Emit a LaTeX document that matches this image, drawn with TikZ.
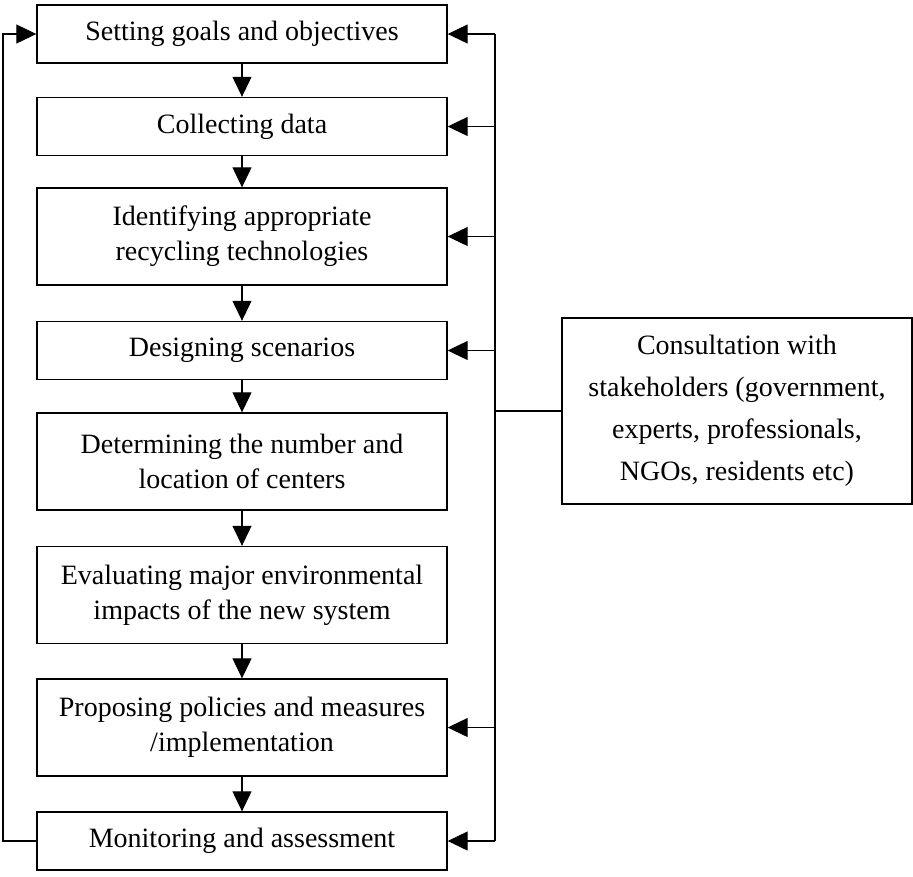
\documentclass[tikz,border=0pt]{standalone}
\usepackage{fontspec}
\setmainfont{Liberation Serif}
\usetikzlibrary{arrows.meta}
\tikzset{>={Triangle[length=8pt,width=7.6pt]}}
\tikzset{stage/.style={draw,line width=0.55pt,inner sep=0pt,minimum width=164pt,
    minimum height=23.2pt,align=center,font=\fontsize{11.2}{14}\selectfont}}
\tikzset{tall/.style={stage,minimum height=38.8pt}}
\tikzset{link/.style={line width=0.45pt}}

\begin{document}
\begin{tikzpicture}[x=0.4pt,y=-0.4pt]
  \useasboundingbox (0,0) rectangle (913,876);
  \node[stage] (goals) at (242,34) {Setting goals and objectives};
  \node[stage] (data) at (242,126.5) {Collecting data};
  \node[tall] (tech) at (242,236.5) {Identifying appropriate\\recycling technologies};
  \node[stage] (scen) at (242,350.5) {Designing scenarios};
  \node[tall] (centers) at (242,461.5) {Determining the number and\\location of centers};
  \node[tall] (impacts) at (242,595) {Evaluating major environmental\\impacts of the new system};
  \node[tall] (policy) at (242,727.5) {Proposing policies and measures\\/implementation};
  \node[stage] (monitor) at (242,841) {Monitoring and assessment};
  \node[draw,line width=0.55pt,inner sep=0pt,minimum width=140pt,minimum height=74.4pt,
    align=center,font=\fontsize{11.2}{16.8}\selectfont] (stake) at (737,411)
    {Consultation with\\stakeholders (government,\\experts, professionals,\\NGOs, residents etc)};
  \coordinate (bus) at (495,0);
  \coordinate (loop) at (3,0);
  % main sequence
  \draw[link,->] (goals) -- (data);
  \draw[link,->] (data) -- (tech);
  \draw[link,->] (tech) -- (scen);
  \draw[link,->] (scen) -- (centers);
  \draw[link,->] (centers) -- (impacts);
  \draw[link,->] (impacts) -- (policy);
  \draw[link,->] (policy) -- (monitor);
  % feedback loop
  \draw[link,->] (monitor.west) -- (loop |- monitor.west) -- (loop |- goals.west) -- (goals.west);
  % stakeholders
  \draw[link] (bus |- goals.east) -- (bus |- monitor.east);
  \draw[link] (bus |- stake.west) -- (stake.west);
  \foreach \s in {goals,data,tech,scen,policy,monitor}
    \draw[link,->] (bus |- \s.east) -- (\s.east);
\end{tikzpicture}
\end{document}
